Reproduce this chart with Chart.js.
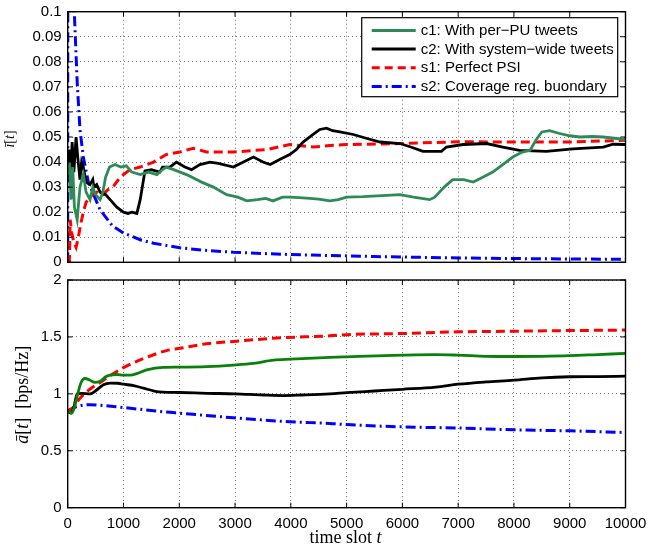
<!DOCTYPE html>
<html>
<head>
<meta charset="utf-8">
<script src="https://cdn.jsdelivr.net/npm/chart.js@4/dist/chart.umd.min.js"></script>
<style>
  html, body { margin: 0; padding: 0; background: #fff; }
  #wrap { position: relative; width: 648px; height: 551px; overflow: hidden; }
  #topBox { position: absolute; left: 0; top: 0; width: 648px; height: 272px; }
  #botBox { position: absolute; left: 0; top: 272px; width: 648px; height: 279px; }
  canvas { display: block; }
</style>
</head>
<body>
<div id="wrap">
  <div id="topBox"><canvas id="cTop" width="648" height="272"></canvas></div>
  <div id="botBox"><canvas id="cBot" width="648" height="279"></canvas></div>
</div>
<script>
// ---------- axis ticks ----------
const xTicks = [0, 1000, 2000, 3000, 4000, 5000, 6000, 7000, 8000, 9000, 10000];
const yTopTicks = [0, 0.01, 0.02, 0.03, 0.04, 0.05, 0.06, 0.07, 0.08, 0.09, 0.1];
const yBotTicks = [0, 0.5, 1, 1.5, 2];

// ---------- titles ----------
const xTitleParts = [{ text: 'time slot ', italic: false }, { text: 't', italic: true }];
const yTopTitleParts = [{ text: 'i\u0304', italic: true }, { text: '[', italic: false }, { text: 't', italic: true }, { text: ']', italic: false }];
const yBotTitleParts = [{ text: 'a\u0304', italic: true }, { text: '[', italic: false }, { text: 't', italic: true }, { text: ']  [bps/Hz]', italic: false }];

// ---------- series labels ----------
const seriesNames = [
  "c1: With per\u2212PU tweets",
  "c2: With system\u2212wide tweets",
  "s1: Perfect PSI",
  "s2: Coverage reg. buondary"
];

// ---------- top panel: i-bar[t] ----------
const c1TopT = [0,30,60,90,120,170,220,280,330,400,450,500,580,630,680,750,850,950,1050,1150,1300,1450,1600,1700,1770,1900,2130,2400,2610,2850,3050,3210,3400,3550,3680,3850,3980,4150,4340,4500,4700,4850,5000,5300,5716,5955,6200,6490,6580,6750,6900,7100,7270,7450,7620,7800,7980,8150,8290,8400,8500,8640,8800,9000,9180,9400,9600,9800,10000];
const c1TopV = [0.035,0.04,0.025,0.038,0.022,0.017,0.03,0.035,0.028,0.025,0.03,0.027,0.025,0.028,0.034,0.038,0.039,0.038,0.0385,0.036,0.035,0.036,0.035,0.037,0.038,0.037,0.035,0.032,0.030,0.027,0.026,0.0245,0.025,0.0255,0.0245,0.026,0.026,0.0258,0.0255,0.0252,0.0245,0.025,0.026,0.0262,0.0267,0.027,0.026,0.025,0.026,0.030,0.033,0.033,0.032,0.034,0.036,0.039,0.042,0.044,0.0447,0.049,0.052,0.0525,0.0515,0.0505,0.050,0.0502,0.050,0.0495,0.049];

const c2TopT = [0,20,50,80,110,150,180,220,250,280,330,400,450,470,520,580,680,760,880,1000,1080,1150,1240,1300,1385,1500,1650,1700,1830,1950,2100,2220,2370,2550,2700,2970,3150,3330,3500,3630,3800,3980,4100,4220,4400,4520,4640,4750,4880,5120,5350,5600,5955,6150,6370,6700,6790,7090,7510,7800,8100,8580,9060,9600,9780,10000];
const c2TopV = [0.035,0.045,0.035,0.048,0.036,0.050,0.042,0.033,0.040,0.038,0.032,0.031,0.033,0.030,0.031,0.028,0.027,0.025,0.022,0.020,0.0195,0.020,0.0195,0.025,0.0365,0.037,0.036,0.038,0.038,0.040,0.038,0.037,0.039,0.040,0.0395,0.038,0.040,0.042,0.040,0.039,0.041,0.043,0.045,0.048,0.051,0.053,0.0535,0.0525,0.052,0.051,0.0495,0.048,0.0474,0.046,0.0443,0.0443,0.046,0.047,0.0474,0.046,0.0447,0.0443,0.0453,0.046,0.0471,0.047];

const s1TopT = [0,30,45,70,110,150,190,240,280,330,370,440,520,630,720,810,940,1120,1300,1540,1770,2010,2250,2490,2970,3570,3980,4400,4700,5000,6000,7000,8000,9000,10000];
const s1TopV = [0,0,0.017,0.012,0.008,0.006,0.010,0.016,0.020,0.024,0.025,0.027,0.028,0.027,0.029,0.030,0.034,0.037,0.038,0.040,0.043,0.044,0.0455,0.044,0.044,0.045,0.047,0.046,0.0466,0.047,0.0474,0.0481,0.048,0.048,0.0487];

const s2TopT = [0,10,118,172,220,280,370,580,800,1000,1300,1540,2010,2500,2970,3500,3980,4700,5500,6500,7500,8500,10000];
const s2TopV = [0,0.5,0.1,0.071,0.053,0.042,0.032,0.021,0.0146,0.0117,0.009,0.0076,0.0058,0.0047,0.004,0.0035,0.0031,0.0027,0.0023,0.0019,0.0016,0.0014,0.0012];

// ---------- bottom panel: a-bar[t] ----------
const c1BotT = [0,40,70,120,180,240,310,400,490,580,680,760,880,1000,1120,1250,1415,1710,2000,2500,2970,3330,3690,4000,4700,5000,6000,6600,7000,7500,8000,8500,9000,9500,10000];
const c1BotV = [0.85,0.84,0.83,0.88,1.0,1.1,1.135,1.12,1.1,1.11,1.15,1.165,1.17,1.165,1.165,1.18,1.21,1.233,1.235,1.24,1.253,1.268,1.297,1.305,1.32,1.325,1.34,1.345,1.34,1.33,1.328,1.33,1.335,1.345,1.355];

const c2BotT = [0,60,110,170,250,400,520,640,760,900,1000,1200,1360,1550,1710,2000,2500,3000,3500,3870,4200,4700,5000,5500,6000,6600,7000,7500,8000,8500,9000,9500,10000];
const c2BotV = [0.85,0.83,0.88,1.0,1.005,1.0,1.034,1.08,1.095,1.093,1.085,1.07,1.05,1.025,1.015,1.012,1.005,1.0,0.99,0.985,0.99,1.0,1.01,1.025,1.04,1.06,1.085,1.105,1.12,1.14,1.15,1.152,1.155];

const s1BotT = [0,100,200,370,580,760,1000,1360,1770,2010,2490,2970,3750,4700,5000,6000,7000,8000,9000,10000];
const s1BotV = [0.85,0.88,0.95,1.03,1.1,1.16,1.23,1.31,1.38,1.4,1.44,1.46,1.49,1.51,1.52,1.53,1.545,1.55,1.556,1.56];

const s2BotT = [0,170,400,700,1000,1770,2010,2970,3980,4700,5000,6000,7000,8000,9000,10000];
const s2BotV = [0.85,0.89,0.905,0.895,0.88,0.84,0.83,0.79,0.755,0.74,0.73,0.71,0.70,0.684,0.675,0.66];

// ---------- helpers ----------
const pts = (t, v) => t.map((x, i) => ({ x: x, y: v[i] }));
const COLORS = { c1Top: '#2e8b57', c1Bot: '#0a800a', c2: '#000000', s1: '#ff0000', s2: '#0000ff' };
const DASH = { c1: [], c2: [], s1: [9, 5], s2: [10, 4, 2, 4] };
const SANS = '"Liberation Sans", Arial, Helvetica, sans-serif';
const SERIF = '"Liberation Serif", "Times New Roman", serif';

const framePlugin = {
  id: 'frame',
  afterDatasetsDraw(chart) {
    const { ctx, chartArea: a, scales } = chart;
    ctx.save();
    ctx.setLineDash([]);
    ctx.strokeStyle = '#000';
    ctx.lineWidth = 1;
    ctx.beginPath();
    scales.x.ticks.forEach(t => {
      const p = scales.x.getPixelForValue(t.value);
      ctx.moveTo(p, a.bottom); ctx.lineTo(p, a.bottom - 5);
      ctx.moveTo(p, a.top); ctx.lineTo(p, a.top + 5);
    });
    scales.y.ticks.forEach(t => {
      const p = scales.y.getPixelForValue(t.value);
      ctx.moveTo(a.left, p); ctx.lineTo(a.left + 5, p);
      ctx.moveTo(a.right, p); ctx.lineTo(a.right - 5, p);
    });
    ctx.stroke();
    ctx.lineWidth = 1.4;
    ctx.strokeRect(a.left, a.top, a.right - a.left, a.bottom - a.top);
    ctx.restore();
  }
};

// axis titles with mixed italic/roman parts
function drawParts(ctx, parts, size) {
  const fontFor = p => (p.italic ? 'italic ' : '') + size + 'px ' + SERIF;
  let total = 0;
  const widths = parts.map(p => { ctx.font = fontFor(p); const w = ctx.measureText(p.text).width; total += w; return w; });
  ctx.textAlign = 'left';
  ctx.textBaseline = 'alphabetic';
  ctx.fillStyle = '#000';
  let x = -total / 2;
  parts.forEach((p, i) => { ctx.font = fontFor(p); ctx.fillText(p.text, x, 0); x += widths[i]; });
}

const axisTitlePlugin = {
  id: 'axisTitles',
  afterDraw(chart, args, opts) {
    const { ctx, chartArea: a } = chart;
    if (opts && opts.y) {
      ctx.save();
      ctx.translate(opts.y.baseX, (a.top + a.bottom) / 2 + (opts.y.shift || 0));
      ctx.rotate(-Math.PI / 2);
      drawParts(ctx, opts.y.parts, opts.y.size);
      ctx.restore();
    }
    if (opts && opts.x) {
      ctx.save();
      ctx.translate((a.left + a.right) / 2 + (opts.x.shift || 0), a.bottom + opts.x.baseOffset);
      drawParts(ctx, opts.x.parts, opts.x.size);
      ctx.restore();
    }
  }
};

const boxLegendPlugin = {
  id: 'boxLegend',
  afterDraw(chart, args, opts) {
    if (!opts || !opts.items) return;
    const { ctx, chartArea: a } = chart;
    const items = opts.items;
    ctx.save();
    ctx.font = '15px ' + SANS;
    const textW = Math.max(...items.map(it => ctx.measureText(it.label).width));
    const padL = 10, lineLen = 44, gap = 5, padR = 4, rowH = 18.7;
    const w = padL + lineLen + gap + textW + padR;
    const h = 79;
    const right = a.right - 7.8, top = a.top + 6;
    const left = right - w;
    ctx.fillStyle = '#fff';
    ctx.fillRect(left, top, w, h);
    ctx.setLineDash([]);
    ctx.strokeStyle = '#000';
    ctx.lineWidth = 1.2;
    ctx.strokeRect(left, top, w, h);
    items.forEach((it, i) => {
      const y = top + 12.7 + i * rowH;
      ctx.beginPath();
      ctx.setLineDash(it.dash);
      ctx.strokeStyle = it.color;
      ctx.lineWidth = 3;
      ctx.moveTo(left + padL, y);
      ctx.lineTo(left + padL + lineLen, y);
      ctx.stroke();
      ctx.setLineDash([]);
      ctx.fillStyle = '#000';
      ctx.textBaseline = 'middle';
      ctx.textAlign = 'left';
      ctx.fillText(it.label, left + padL + lineLen + gap, y + 0.5);
    });
    ctx.restore();
  }
};

function lineDs(label, t, v, color, dash, width, smooth) {
  return {
    label: label,
    data: pts(t, v),
    borderColor: color,
    backgroundColor: color,
    borderWidth: width,
    borderDash: dash,
    pointRadius: 0,
    pointHoverRadius: 0,
    fill: false,
    tension: smooth ? 0.4 : 0,
    cubicInterpolationMode: smooth ? 'monotone' : 'default'
  };
}

function zeroPad(s) {
  s.paddingTop = 0; s.paddingBottom = 0; s.paddingLeft = 0; s.paddingRight = 0;
}

function gridX(showLabels, fitHeight) {
  return {
    type: 'linear',
    min: 0, max: 10000,
    afterBuildTicks: s => { s.ticks = xTicks.map(v => ({ value: v })); },
    ticks: {
      display: showLabels,
      autoSkip: false,
      maxRotation: 0,
      padding: 7,
      color: '#000',
      font: { family: SANS, size: 15 },
      callback: v => String(v)
    },
    grid: { color: 'rgba(0,0,0,0.55)', lineWidth: 1, drawTicks: false },
    border: { display: true, color: '#000', width: 1, dash: [1, 3] },
    afterFit: s => { s.height = fitHeight; zeroPad(s); }
  };
}

function gridY(ticksArr, min, max, fmt) {
  return {
    type: 'linear',
    min: min, max: max,
    afterBuildTicks: s => { s.ticks = ticksArr.map(v => ({ value: v })); },
    ticks: {
      autoSkip: false,
      padding: 6,
      color: '#000',
      font: { family: SANS, size: 15 },
      callback: fmt
    },
    grid: { color: 'rgba(0,0,0,0.55)', lineWidth: 1, drawTicks: false },
    border: { display: true, color: '#000', width: 1, dash: [1, 3] },
    afterFit: s => { s.width = 67.7; zeroPad(s); }
  };
}

const fmtTop = v => String(+v.toFixed(2));
const fmtBot = v => String(+v.toFixed(1));

// ---------- top chart ----------
new Chart(document.getElementById('cTop'), {
  type: 'line',
  data: {
    datasets: [
      lineDs(seriesNames[0], c1TopT, c1TopV, COLORS.c1Top, DASH.c1, 2.8, false),
      lineDs(seriesNames[1], c2TopT, c2TopV, COLORS.c2, DASH.c2, 2.8, false),
      lineDs(seriesNames[2], s1TopT, s1TopV, COLORS.s1, DASH.s1, 3, false),
      lineDs(seriesNames[3], s2TopT, s2TopV, COLORS.s2, DASH.s2, 3, false)
    ]
  },
  options: {
    responsive: false,
    animation: false,
    devicePixelRatio: 1,
    layout: { padding: { top: 11.7, right: 22.5, left: 0, bottom: 0 } },
    plugins: {
      legend: { display: false },
      tooltip: { enabled: false },
      axisTitles: { y: { parts: yTopTitleParts, size: 14, baseX: 14, shift: 2 } },
      boxLegend: {
        items: [
          { label: seriesNames[0], color: COLORS.c1Top, dash: DASH.c1 },
          { label: seriesNames[1], color: COLORS.c2, dash: DASH.c2 },
          { label: seriesNames[2], color: COLORS.s1, dash: [8, 5] },
          { label: seriesNames[3], color: COLORS.s2, dash: [10, 4, 2, 4] }
        ]
      }
    },
    scales: { x: gridX(false, 9.7), y: gridY(yTopTicks, 0, 0.1, fmtTop) }
  },
  plugins: [framePlugin, axisTitlePlugin, boxLegendPlugin]
});

// ---------- bottom chart ----------
new Chart(document.getElementById('cBot'), {
  type: 'line',
  data: {
    datasets: [
      lineDs(seriesNames[0], c1BotT, c1BotV, COLORS.c1Bot, DASH.c1, 2.8, true),
      lineDs(seriesNames[1], c2BotT, c2BotV, COLORS.c2, DASH.c2, 2.8, true),
      lineDs(seriesNames[2], s1BotT, s1BotV, COLORS.s1, DASH.s1, 3, true),
      lineDs(seriesNames[3], s2BotT, s2BotV, COLORS.s2, DASH.s2, 3, true)
    ]
  },
  options: {
    responsive: false,
    animation: false,
    devicePixelRatio: 1,
    layout: { padding: { top: 8, right: 22.5, left: 0, bottom: 0 } },
    plugins: {
      legend: { display: false },
      tooltip: { enabled: false },
      axisTitles: {
        y: { parts: yBotTitleParts, size: 18, baseX: 28, shift: 1 },
        x: { parts: xTitleParts, size: 18, baseOffset: 35.5, shift: -1 }
      }
    },
    scales: { x: gridX(true, 43.3), y: gridY(yBotTicks, 0, 2, fmtBot) }
  },
  plugins: [framePlugin, axisTitlePlugin]
});
</script>
</body>
</html>
